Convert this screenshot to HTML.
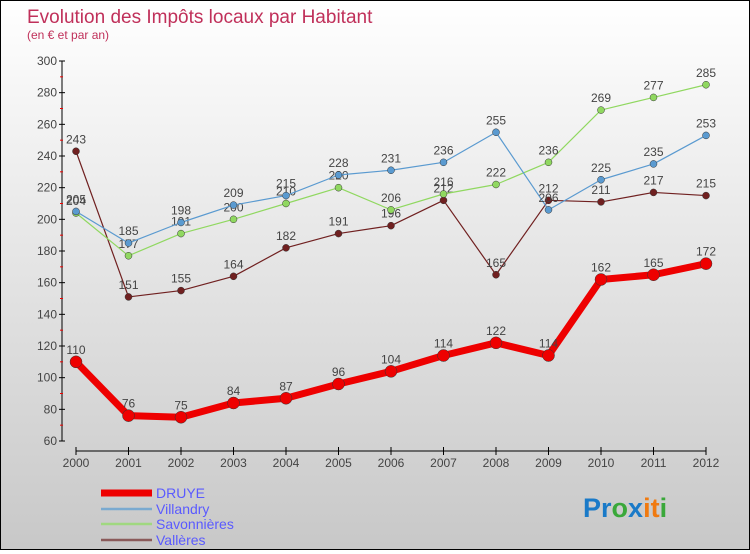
<!DOCTYPE html>
<html><head><meta charset="utf-8"><style>
html,body{margin:0;padding:0}
body{width:750px;height:550px;overflow:hidden;font-family:"Liberation Sans",sans-serif}
#wrap{position:relative;width:748px;height:548px;border:1px solid #000;background:linear-gradient(#fff,#c8c8c8)}
</style></head><body>
<div id="wrap">
<svg id="chart" width="748" height="548" xmlns="http://www.w3.org/2000/svg">
<text x="26" y="22" font-size="19" fill="#c0305a">Evolution des Impôts locaux par Habitant</text>
<text x="26" y="38" font-size="12" fill="#c0305a">(en € et par an)</text>
<g id="axes"></g><g id="series"></g><g id="legend"></g>
<text x="582" y="516" font-size="27" font-weight="bold"><tspan fill="#1a7ac8">Pr</tspan><tspan fill="#3aa83a">o</tspan><tspan fill="#1a7ac8">x</tspan><tspan fill="#f07a10">it</tspan><tspan fill="#3aa83a">i</tspan></text>
</svg></div>
<script>
const years=[2000,2001,2002,2003,2004,2005,2006,2007,2008,2009,2010,2011,2012];
const druye=[110,76,75,84,87,96,104,114,122,114,162,165,172];
const villandry=[205,185,198,209,215,228,231,236,255,206,225,235,253];
const savonnieres=[204,177,191,200,210,220,206,216,222,236,269,277,285];
const valleres=[243,151,155,164,182,191,196,212,165,212,211,217,215];
const yTicks=[60,80,100,120,140,160,180,200,220,240,260,280,300];
const NS="http://www.w3.org/2000/svg";
const x=i=>75+i*(705-75)/(years.length-1);
const y=v=>440-(v-60)*(380/240);
function mk(tag,attrs,parent){const e=document.createElementNS(NS,tag);for(const k in attrs)e.setAttribute(k,attrs[k]);parent.appendChild(e);return e;}
const ax=document.getElementById('axes');
let l=mk('line',{x1:61,y1:60,x2:61,y2:440,stroke:'#000'},ax);


for(const t of yTicks){
  mk('line',{x1:58,y1:y(t),x2:64,y2:y(t),stroke:'#000'},ax);
  const tx=mk('text',{x:56,y:y(t)+4,'font-size':12,fill:'#444','text-anchor':'end'},ax);
  tx.textContent=t;
  
  
  if(t<300){mk('line',{x1:59,y1:y(t+10),x2:62,y2:y(t+10),stroke:'#e00'},ax);}
}
l=mk('line',{x1:75,y1:450,x2:705,y2:450,stroke:'#000'},ax);


years.forEach((yr,i)=>{
  mk('line',{x1:x(i),y1:446,x2:x(i),y2:454,stroke:'#000'},ax);
  const tx=mk('text',{x:x(i),y:466,'font-size':12,fill:'#444','text-anchor':'middle'},ax);
  tx.textContent=yr;
  
  
});
const sg=document.getElementById('series');
const defs=[
 {name:'valleres',data:valleres,c:'#702020',w:1.2,r:3.5},
 {name:'savonnieres',data:savonnieres,c:'#90d860',w:1.2,r:3.5},
 {name:'villandry',data:villandry,c:'#5a9ad0',w:1.2,r:3.5},
 {name:'druye',data:druye,c:'#ee0000',w:7,r:6}
];
for(const s of defs){
  const g=mk('g',{},sg);
  
  
  const p=mk('polyline',{points:s.data.map((v,i)=>x(i)+','+y(v)).join(' '),fill:'none',stroke:s.c,'stroke-width':s.w,'stroke-linejoin':'round'},g);
  
  
  s.data.forEach((v,i)=>{
    const c=mk('circle',{cx:x(i),cy:y(v),r:s.r,fill:s.c,stroke:'#333','stroke-width':0.5},g);
    
    
    const t=mk('text',{x:x(i),y:y(v)-8,'font-size':12,fill:'#444','text-anchor':'middle'},g);
    t.textContent=v;
    
    
  });
}
const lg=document.getElementById('legend');
const leg=[['DRUYE','#ee0000',7,492],['Villandry','#7aaad0',2.5,508],['Savonnières','#a0d880',2.5,523],['Vallères','#8a5a5a',2.5,539]];
for(const [n,c,w,yy] of leg){
  const g=mk('g',{},lg);
  
  
  mk('line',{x1:100,y1:yy,x2:151,y2:yy,stroke:c,'stroke-width':w},g);
  const t=mk('text',{x:155,y:yy+5,'font-size':14,fill:'#5a5aff'},g);
  t.textContent=n;
}
</script>
</body></html>
